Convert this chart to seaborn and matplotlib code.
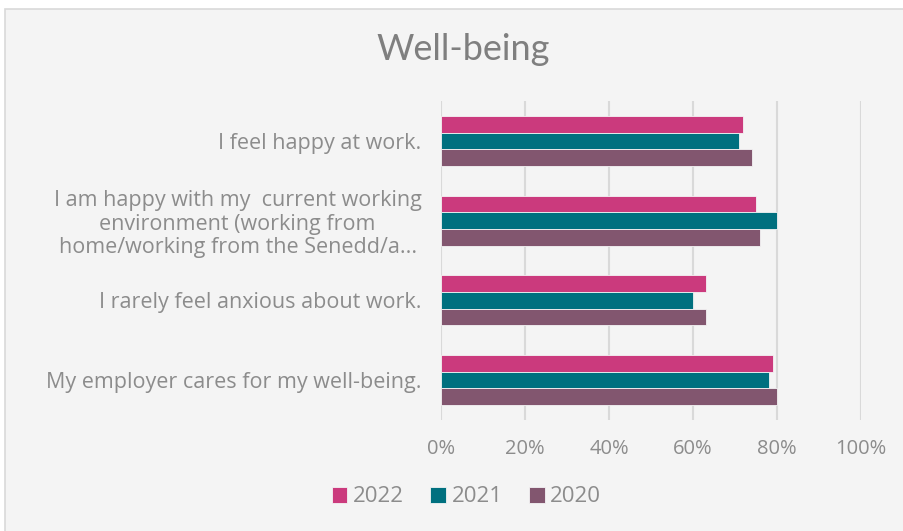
import numpy as np
import pandas as pd
import matplotlib.pyplot as plt
import seaborn as sns
from matplotlib.patches import Rectangle
from matplotlib.ticker import PercentFormatter

statements = [
    "I feel happy at work.",
    "I am happy with my  current working\nenvironment (working from\nhome/working from the Senedd/a...",
    "I rarely feel anxious about work.",
    "My employer cares for my well-being.",
]
years = ["2022", "2021", "2020"]
values_2022 = [72, 75, 63, 79]
values_2021 = [71, 80, 60, 78]
values_2020 = [74, 76, 63, 80]
colors = ["#CB3A7D", "#00707F", "#82566F"]

df = pd.DataFrame({
    "statement": statements * 3,
    "year": [y for y in years for _ in statements],
    "value": values_2022 + values_2021 + values_2020,
})

sns.set_theme(style="white")
plt.rcParams["font.family"] = ["Open Sans", "DejaVu Sans"]
txt = "#8C8C8C"

fig = plt.figure(figsize=(9.04, 5.31), dpi=100)
fig.patch.set_facecolor("white")
fig.patches.append(Rectangle((5 / 904, -0.01), 1.0, 1 - 9 / 531 + 0.01,
                             transform=fig.transFigure, facecolor="#F4F4F4",
                             edgecolor="#D9D9D9", linewidth=1.2, zorder=-5))

ax = fig.add_axes([441 / 904, 1 - 420 / 531, 420 / 904, 319 / 531])
ax.set_facecolor("none")
sns.barplot(data=df, y="statement", x="value", hue="year", hue_order=years,
            palette=colors, orient="h", width=0.625, ax=ax,
            edgecolor="#F4F4F4", linewidth=0.6, saturation=1)

ax.set_xlim(0, 100)
ax.set_xticks(np.arange(0, 101, 20))
ax.xaxis.set_major_formatter(PercentFormatter(decimals=0))
ax.grid(axis="x", color="#D9D9D9", linewidth=1.5)
ax.set_axisbelow(True)
for s in ax.spines.values():
    s.set_visible(False)
ax.set_xlabel("")
ax.set_ylabel("")
ax.tick_params(axis="x", colors=txt, labelsize=14.5, length=0, pad=14)
ax.tick_params(axis="y", colors=txt, labelsize=15.5, length=0, pad=14)
for lab in ax.get_yticklabels():
    lab.set_multialignment("center")
    lab.set_linespacing(1.15)

fig.text(0.512, 1 - 49 / 531, "Well-being", ha="center", va="center",
         fontsize=26, color="#7F7F7F", family=["Lato", "DejaVu Sans"])

ax.legend_.remove()
handles, labels = ax.get_legend_handles_labels()
fig.legend(handles, labels, loc="center", bbox_to_anchor=(0.516, 1 - 497 / 531),
           ncol=3, frameon=False, fontsize=16, handlelength=0.7, handleheight=0.7,
           handletextpad=0.25, columnspacing=1.2, labelcolor=txt)

fig.savefig("out.png", dpi=100)
